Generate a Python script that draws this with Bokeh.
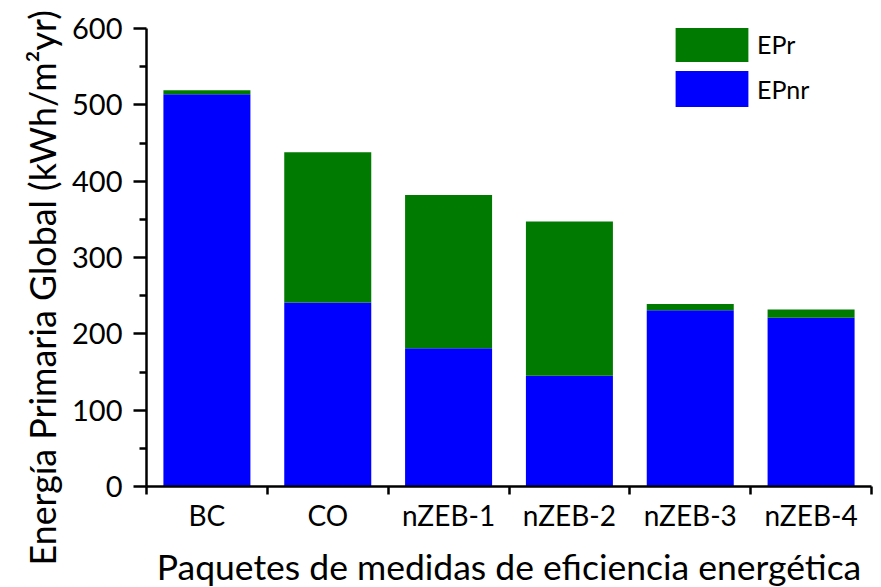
from bokeh.plotting import figure
from bokeh.models import (ColumnDataSource, Range1d, FixedTicker, Legend, LegendItem, Title)
from bokeh.embed import file_html
from bokeh.resources import INLINE

categories = ["BC", "CO", "nZEB-1", "nZEB-2", "nZEB-3", "nZEB-4"]
epnr = [514, 241, 181, 145, 231, 221]
epr = [5, 197, 201, 202, 8, 11]
y_ticks = [0, 100, 200, 300, 400, 500, 600]
y_minor = [50, 150, 250, 350, 450, 550]

FONT = "Lato"
GREEN = "#007A00"
BLUE = "#0000FF"

xpos = [i + 0.5 for i in range(len(categories))]
src = ColumnDataSource(dict(x=xpos, EPnr=epnr, EPr=epr))

p = figure(frame_width=725, frame_height=458, output_backend="svg", toolbar_location=None,
           x_range=Range1d(0, len(categories)), y_range=Range1d(0, 600),
           min_border_left=146, min_border_top=28, min_border_right=8, min_border_bottom=99)
p.outline_line_color = None
p.xgrid.visible = False
p.ygrid.visible = False

rs = p.vbar_stack(["EPnr", "EPr"], x="x", width=0.72, color=[BLUE, GREEN],
                  line_color=None, source=src)

# y axis
ya = p.yaxis[0]
ya.ticker = FixedTicker(ticks=y_ticks, minor_ticks=y_minor)
ya.axis_line_width = 2.5
ya.major_tick_line_width = 2.5
ya.minor_tick_line_width = 2.5
ya.major_tick_in = 0
ya.major_tick_out = 13
ya.minor_tick_in = 0
ya.minor_tick_out = 7
ya.major_label_standoff = 11
ya.major_label_text_font = FONT
ya.major_label_text_font_size = "29px"
ya.major_label_text_color = "black"

ytitle = Title(text="Energía Primaria Global (kWh/m²yr)", align="left", offset=-79,
               text_font=FONT, text_font_size="35.8px", text_font_style="normal",
               text_color="black", standoff=12)
p.add_layout(ytitle, "left")

# x axis
xa = p.xaxis[0]
xa.ticker = FixedTicker(ticks=xpos, minor_ticks=list(range(len(categories) + 1)))
xa.major_label_overrides = {x: c for x, c in zip(xpos, categories)}
xa.axis_line_width = 2.5
xa.major_tick_in = 0
xa.major_tick_out = 0
xa.major_tick_line_color = None
xa.minor_tick_line_width = 2.5
xa.minor_tick_in = 0
xa.minor_tick_out = 8
xa.major_label_standoff = 3
xa.major_label_text_font = FONT
xa.major_label_text_font_size = "28px"
xa.major_label_text_color = "black"
xa.axis_label = "Paquetes de medidas de eficiencia energética"
xa.axis_label_text_font = FONT
xa.axis_label_text_font_size = "35.5px"
xa.axis_label_text_font_style = "normal"
xa.axis_label_text_color = "black"
xa.axis_label_standoff = 10

legend = Legend(items=[LegendItem(label="EPr", renderers=[rs[1]]),
                       LegendItem(label="EPnr", renderers=[rs[0]])],
                location=(520, 375), padding=0, margin=0, spacing=-5,
                glyph_width=91, glyph_height=45, label_standoff=0,
                label_text_font=FONT, label_text_font_size="25px",
                label_text_color="black",
                border_line_color=None, background_fill_alpha=0)
p.add_layout(legend)

open("out.html", "w").write(file_html(p, INLINE))
